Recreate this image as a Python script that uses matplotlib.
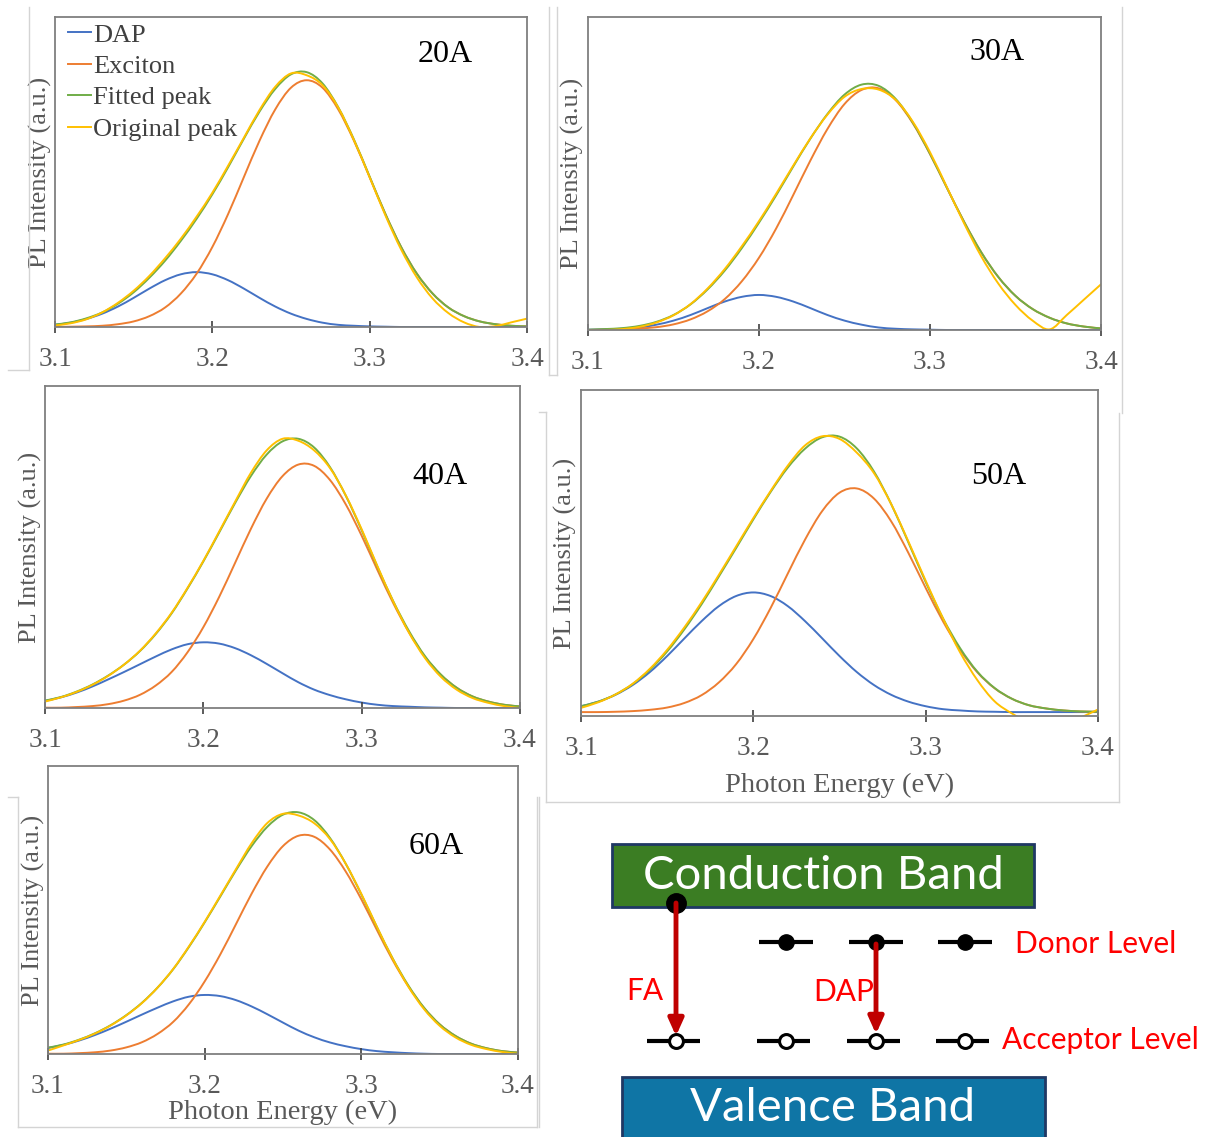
import matplotlib
matplotlib.use('Agg')
import matplotlib.pyplot as plt
from matplotlib.patches import Rectangle, PathPatch
from matplotlib.path import Path
from matplotlib.lines import Line2D

# ---- data (relative PL intensity, 0..1 of each frame) ----
energy = [3.10, 3.11, 3.12, 3.13, 3.14, 3.15, 3.16, 3.17, 3.18, 3.19, 3.20,
          3.21, 3.22, 3.23, 3.24, 3.25, 3.26, 3.27, 3.28, 3.29, 3.30,
          3.31, 3.32, 3.33, 3.34, 3.35, 3.36, 3.37, 3.38, 3.39, 3.40]

samples = ['20A', '30A', '40A', '50A', '60A']
series_names = ['DAP', 'Exciton', 'Fitted peak', 'Original peak']

dap_20 = [0.007, 0.014, 0.026, 0.043, 0.066, 0.094, 0.124, 0.151, 0.170, 0.177, 0.170,
          0.151, 0.124, 0.094, 0.066, 0.043, 0.026, 0.014, 0.007, 0.004, 0.002,
          0.001, 0.0, 0.0, 0.0, 0.0, 0.0, 0.0, 0.0, 0.0, 0.0]
exc_20 = [0.000, 0.001, 0.002, 0.004, 0.009, 0.018, 0.035, 0.063, 0.108, 0.172, 0.258,
          0.364, 0.483, 0.601, 0.702, 0.772, 0.796, 0.772, 0.702, 0.601, 0.483,
          0.364, 0.258, 0.172, 0.108, 0.063, 0.035, 0.018, 0.009, 0.004, 0.002]
fit_20 = [0.008, 0.015, 0.028, 0.047, 0.075, 0.112, 0.159, 0.214, 0.278, 0.349, 0.428,
          0.515, 0.607, 0.695, 0.768, 0.815, 0.822, 0.786, 0.709, 0.605, 0.485,
          0.365, 0.258, 0.172, 0.108, 0.063, 0.035, 0.018, 0.009, 0.004, 0.002]
orig_20 = [0.005, 0.012, 0.025, 0.047, 0.078, 0.117, 0.165, 0.222, 0.285, 0.356, 0.433,
           0.520, 0.610, 0.700, 0.775, 0.818, 0.812, 0.780, 0.708, 0.603, 0.483,
           0.360, 0.250, 0.160, 0.092, 0.045, 0.015, 0.000, 0.003, 0.015, 0.027]

dap_30 = [0.001, 0.002, 0.004, 0.008, 0.017, 0.030, 0.048, 0.070, 0.091, 0.106, 0.112,
          0.106, 0.091, 0.070, 0.048, 0.030, 0.017, 0.008, 0.004, 0.002, 0.001,
          0.0, 0.0, 0.0, 0.0, 0.0, 0.0, 0.0, 0.0, 0.0, 0.0]
exc_30 = [0.000, 0.001, 0.002, 0.005, 0.009, 0.018, 0.034, 0.060, 0.099, 0.156, 0.231,
          0.324, 0.431, 0.541, 0.642, 0.722, 0.767, 0.772, 0.734, 0.660, 0.562,
          0.453, 0.345, 0.248, 0.169, 0.109, 0.067, 0.039, 0.021, 0.011, 0.005]
fit_30 = [0.001, 0.003, 0.006, 0.013, 0.026, 0.048, 0.082, 0.130, 0.190, 0.262, 0.343,
          0.430, 0.522, 0.611, 0.690, 0.752, 0.784, 0.780, 0.738, 0.662, 0.563,
          0.453, 0.345, 0.248, 0.169, 0.109, 0.067, 0.039, 0.021, 0.011, 0.005]
orig_30 = [0.000, 0.000, 0.003, 0.010, 0.024, 0.047, 0.083, 0.133, 0.195, 0.268, 0.348,
           0.435, 0.525, 0.612, 0.688, 0.745, 0.770, 0.768, 0.735, 0.665, 0.568,
           0.455, 0.340, 0.235, 0.148, 0.080, 0.030, 0.002, 0.048, 0.097, 0.146]

dap_40 = [0.022, 0.033, 0.048, 0.067, 0.089, 0.112, 0.136, 0.160, 0.182, 0.198, 0.204,
          0.200, 0.186, 0.164, 0.137, 0.108, 0.080, 0.057, 0.040, 0.027, 0.017,
          0.010, 0.006, 0.004, 0.002, 0.001, 0.0, 0.0, 0.0, 0.0, 0.0]
exc_40 = [0.001, 0.001, 0.003, 0.006, 0.012, 0.023, 0.041, 0.070, 0.112, 0.173, 0.251,
          0.345, 0.450, 0.556, 0.650, 0.720, 0.756, 0.752, 0.708, 0.632, 0.535,
          0.428, 0.325, 0.234, 0.159, 0.103, 0.063, 0.036, 0.020, 0.010, 0.005]
fit_40 = [0.023, 0.034, 0.051, 0.073, 0.101, 0.135, 0.177, 0.230, 0.294, 0.371, 0.455,
          0.545, 0.636, 0.720, 0.787, 0.828, 0.836, 0.809, 0.748, 0.659, 0.552,
          0.438, 0.331, 0.238, 0.161, 0.104, 0.063, 0.036, 0.020, 0.010, 0.005]
orig_40 = [0.020, 0.033, 0.050, 0.072, 0.100, 0.135, 0.178, 0.232, 0.296, 0.373, 0.457,
           0.548, 0.640, 0.730, 0.800, 0.836, 0.830, 0.800, 0.745, 0.660, 0.555,
           0.440, 0.330, 0.233, 0.155, 0.097, 0.057, 0.031, 0.016, 0.006, 0.000]

dap_50 = [0.030, 0.044, 0.065, 0.095, 0.135, 0.184, 0.238, 0.291, 0.337, 0.368, 0.379,
          0.368, 0.337, 0.291, 0.238, 0.184, 0.135, 0.095, 0.065, 0.044, 0.030,
          0.021, 0.017, 0.014, 0.013, 0.012, 0.012, 0.012, 0.012, 0.012, 0.012]
exc_50 = [0.012, 0.012, 0.013, 0.015, 0.019, 0.026, 0.040, 0.064, 0.103, 0.159, 0.236,
          0.331, 0.437, 0.541, 0.629, 0.685, 0.698, 0.667, 0.597, 0.500, 0.393,
          0.291, 0.203, 0.134, 0.085, 0.053, 0.033, 0.023, 0.017, 0.014, 0.013]
fit_50 = [0.030, 0.044, 0.066, 0.098, 0.142, 0.198, 0.266, 0.343, 0.428, 0.515, 0.603,
          0.687, 0.762, 0.820, 0.855, 0.857, 0.821, 0.750, 0.650, 0.532, 0.411,
          0.300, 0.208, 0.136, 0.086, 0.053, 0.033, 0.023, 0.017, 0.014, 0.013]
orig_50 = [0.025, 0.042, 0.066, 0.099, 0.145, 0.203, 0.272, 0.349, 0.433, 0.520, 0.607,
           0.690, 0.768, 0.830, 0.858, 0.850, 0.808, 0.745, 0.650, 0.535, 0.415,
           0.300, 0.195, 0.110, 0.045, 0.008, -0.020, -0.030, -0.030, -0.005, 0.020]

dap_60 = [0.021, 0.032, 0.047, 0.066, 0.088, 0.112, 0.137, 0.161, 0.183, 0.199, 0.205,
          0.201, 0.187, 0.165, 0.138, 0.109, 0.081, 0.058, 0.040, 0.027, 0.017,
          0.010, 0.006, 0.003, 0.001, 0.0, 0.0, 0.0, 0.0, 0.0, 0.0]
exc_60 = [0.001, 0.001, 0.003, 0.006, 0.012, 0.023, 0.041, 0.070, 0.112, 0.173, 0.252,
          0.346, 0.451, 0.557, 0.651, 0.722, 0.758, 0.754, 0.710, 0.634, 0.537,
          0.430, 0.326, 0.235, 0.160, 0.103, 0.063, 0.036, 0.020, 0.010, 0.005]
fit_60 = [0.022, 0.033, 0.050, 0.072, 0.100, 0.135, 0.178, 0.231, 0.295, 0.372, 0.457,
          0.547, 0.638, 0.722, 0.789, 0.831, 0.839, 0.812, 0.750, 0.661, 0.554,
          0.440, 0.332, 0.238, 0.161, 0.103, 0.063, 0.036, 0.020, 0.010, 0.005]
orig_60 = [0.012, 0.030, 0.049, 0.071, 0.099, 0.134, 0.177, 0.231, 0.296, 0.374, 0.459,
           0.550, 0.642, 0.732, 0.802, 0.834, 0.828, 0.801, 0.746, 0.661, 0.556,
           0.441, 0.331, 0.234, 0.156, 0.098, 0.058, 0.032, 0.017, 0.007, 0.001]

panel_data = {
    '20A': [dap_20, exc_20, fit_20, orig_20],
    '30A': [dap_30, exc_30, fit_30, orig_30],
    '40A': [dap_40, exc_40, fit_40, orig_40],
    '50A': [dap_50, exc_50, fit_50, orig_50],
    '60A': [dap_60, exc_60, fit_60, orig_60],
}
xticks = [3.1, 3.2, 3.3, 3.4]
xtick_labels = ['3.1', '3.2', '3.3', '3.4']

# ---- layout (pixel boxes of each frame: left, top, right, bottom) ----
W, H = 1211, 1137
frames = {
    '20A': (55, 17, 527, 327),
    '30A': (588, 17, 1101, 330),
    '40A': (45, 386, 520, 708),
    '50A': (581, 390, 1098, 716),
    '60A': (48, 766, 518, 1054),
}
tag_pos = {'20A': (445, 55), '30A': (997, 52), '40A': (440, 476),
           '50A': (999, 476), '60A': (436, 847)}
ylabel_x = {'20A': 40, '30A': 572, '40A': 30, '50A': 565, '60A': 33}
xlabel_y = {'50A': 785, '60A': 1112}

colors = ['#4472C4', '#ED7D31', '#70AD47', '#FFC000']
serif = 'Liberation Serif'
gray = '#595959'
curve_lw = 1.4


def smooth_curve(ax, x, y, color):
    # smoothed line through the points (Bezier segments, like a spreadsheet "smooth line")
    pts = list(zip(x, y))
    n = len(pts)
    verts = [pts[0]]
    codes = [Path.MOVETO]
    for i in range(n - 1):
        p0 = pts[i - 1] if i > 0 else pts[i]
        p1, p2 = pts[i], pts[i + 1]
        p3 = pts[i + 2] if i + 2 < n else pts[i + 1]
        c1 = (p1[0] + (p2[0] - p0[0]) / 6, p1[1] + (p2[1] - p0[1]) / 6)
        c2 = (p2[0] - (p3[0] - p1[0]) / 6, p2[1] - (p3[1] - p1[1]) / 6)
        verts += [c1, c2, p2]
        codes += [Path.CURVE4] * 3
    ax.add_patch(PathPatch(Path(verts, codes), fill=False, edgecolor=color,
                           lw=curve_lw, capstyle='round', joinstyle='round'))


fig = plt.figure(figsize=(W / 100, H / 100), dpi=100)

# faint borders of the pasted panels
border_color = '#d4d4d4'
borders = [
    ([29, 29], [7, 370]), ([8, 29], [370, 370]),
    ([549, 549], [7, 375]), ([557, 557], [7, 375]), ([549, 557], [375, 375]),
    ([1122, 1122], [7, 413]),
    ([539, 546], [412, 412]), ([546, 546], [412, 802]), ([546, 1119], [802, 802]),
    ([1119, 1119], [413, 802]), ([539, 539], [797, 1127]),
    ([8, 18], [797, 797]), ([18, 18], [797, 1127]), ([18, 537], [1127, 1127]),
    ([537, 537], [797, 1127]),
]
for bx, by in borders:
    fig.add_artist(Line2D([v / W for v in bx], [1 - v / H for v in by],
                          color=border_color, lw=1.0))

for name in samples:
    l, t, r, b = frames[name]
    ax = fig.add_axes([l / W, 1 - b / H, (r - l) / W, (b - t) / H])
    for i in range(4):
        smooth_curve(ax, energy, panel_data[name][i], colors[i])
    ax.set_xlim(3.1, 3.4)
    ax.set_ylim(0, 1)
    ax.set_yticks([])
    ax.set_xticks(xticks)
    ax.set_xticklabels(xtick_labels, fontfamily=serif, fontsize=19.5, color=gray)
    ax.tick_params(axis='x', direction='inout', length=9, width=1.2,
                   color='#404040', pad=10)
    for sp in ax.spines.values():
        sp.set_color('#7f7f7f')
        sp.set_linewidth(1.3)
    ax.set_ylabel('PL Intensity (a.u.)', fontfamily=serif, fontsize=19, color=gray)
    ax.yaxis.set_label_coords((ylabel_x[name] - l) / (r - l), 0.5)
    ax.yaxis.label.set_va('center')
    tx, ty = tag_pos[name]
    ax.text((tx - l) / (r - l), (b - ty) / (b - t), name, transform=ax.transAxes,
            ha='center', va='center', fontfamily=serif, fontsize=23, color='black')
    if name in xlabel_y:
        ax.set_xlabel('Photon Energy (eV)', fontfamily=serif, fontsize=20.5, color=gray)
        ax.xaxis.set_label_coords(0.5, -(xlabel_y[name] - b) / (b - t))
        ax.xaxis.label.set_va('center')
    if name == '20A':
        handles = [Line2D([], [], color=colors[i], lw=curve_lw) for i in range(4)]
        ax.legend(handles, series_names, loc='upper left',
                  bbox_to_anchor=(0.028, 0.98), frameon=False,
                  prop={'family': serif, 'size': 19}, labelcolor='#404040',
                  handlelength=0.85, handletextpad=0.1, labelspacing=0.3,
                  borderaxespad=0.0, borderpad=0.0)

# ---- band diagram (pixel coordinates of the lower-right corner) ----
donor_x = [786, 876, 965]
acceptor_x = [676, 786, 876, 965]
donor_y, acceptor_y = 942, 1041
half_seg = 27
sans = 'Lato'
red = '#FF0000'
dark_red = '#C00000'

axd = fig.add_axes([560 / W, 0, (W - 560) / W, (H - 830) / H])
axd.set_xlim(560, W)
axd.set_ylim(H, 830)
axd.axis('off')

axd.add_patch(Rectangle((612, 844), 422, 63, facecolor='#3B7D23',
                        edgecolor='#1F3864', lw=2))
axd.text(823, 876, 'Conduction Band', color='white', fontfamily=sans,
         fontsize=34, ha='center', va='center')
axd.add_patch(Rectangle((622, 1077), 423, 70, facecolor='#0F75A5',
                        edgecolor='#1F3864', lw=2, clip_on=False))
axd.text(833, 1108, 'Valence Band', color='white', fontfamily=sans,
         fontsize=34, ha='center', va='center')

for x in donor_x:
    axd.plot([x - half_seg, x + half_seg], [donor_y, donor_y], color='black', lw=3,
             solid_capstyle='butt')
    axd.plot(x, donor_y, 'o', color='black', ms=11)
for x in acceptor_x:
    axd.plot([x - 29, x + 24], [acceptor_y, acceptor_y], color='black', lw=3,
             solid_capstyle='butt')
    axd.plot(x, acceptor_y, 'o', mfc='white', mec='black', mew=2.2, ms=10)

axd.annotate('', xy=(676, 1036), xytext=(676, 903),
             arrowprops=dict(arrowstyle='-|>,head_width=0.45,head_length=1.0',
                             color=dark_red, lw=3.5, shrinkA=0, shrinkB=0))
axd.plot(676, 903, 'o', color='black', ms=14)
axd.annotate('', xy=(876, 1034), xytext=(876, 944),
             arrowprops=dict(arrowstyle='-|>,head_width=0.45,head_length=1.0',
                             color=dark_red, lw=3.5, shrinkA=0, shrinkB=0))

axd.text(1015, 944, 'Donor Level', color=red, fontfamily=sans, fontsize=21.5,
         ha='left', va='center')
axd.text(1002, 1040, 'Acceptor Level', color=red, fontfamily=sans, fontsize=21.5,
         ha='left', va='center')
axd.text(645, 991, 'FA', color=red, fontfamily=sans, fontsize=21.5,
         ha='center', va='center')
axd.text(844, 992, 'DAP', color=red, fontfamily=sans, fontsize=21.5,
         ha='center', va='center')

fig.savefig('out.png', dpi=100)
